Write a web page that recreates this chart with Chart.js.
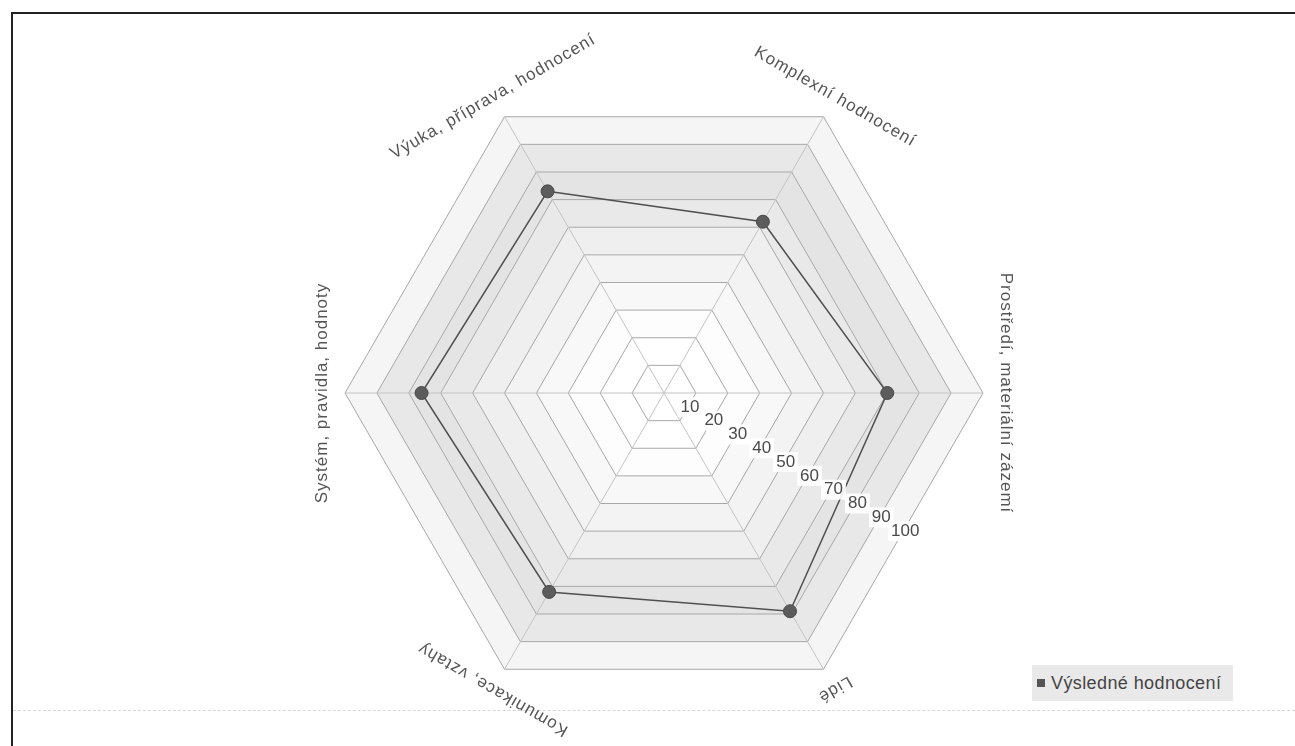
<!DOCTYPE html>
<html>
<head>
<meta charset="utf-8">
<script src="https://cdn.jsdelivr.net/npm/chart.js@4.4.1/dist/chart.umd.min.js"></script>
<style>
  html, body { margin: 0; padding: 0; background: #fff; }
  #wrap { position: relative; width: 1295px; height: 746px; overflow: hidden; }
  #frame { position: absolute; left: 11px; top: 12px; width: 1300px; height: 760px;
           border-top: 2px solid #222; border-left: 2px solid #222; }
  #bottomLine { position: absolute; left: 13px; top: 710px; width: 1282px; height: 0;
                border-top: 1px dashed #d8d8d8; }
  #legend { position: absolute; left: 1032px; top: 665px; width: 201px; height: 36px;
            background: #e9e9e9; font-family: "Liberation Sans", Arial, sans-serif;
            font-size: 18px; color: #444; display: flex; align-items: center; letter-spacing: 0.4px; }
  #legend span.box { display: inline-block; width: 8px; height: 8px; background: #555;
                     margin: 0 6px 0 5px; }
  canvas { position: absolute; left: 0; top: 0; }
</style>
</head>
<body>
<div id="wrap">
  <div id="frame"></div>
  <div id="bottomLine"></div>
  <canvas id="radar" width="1295" height="746"></canvas>
  <div id="legend"><span class="box"></span>Výsledné hodnocení</div>
</div>
<script>
const categories = [
  "Výuka, příprava, hodnocení",
  "Komplexní hodnocení",
  "Prostředí, materiální zázemí",
  "Lidé",
  "Komunikace, vztahy",
  "Systém, pravidla, hodnoty"
];
const scores = [73, 62, 70, 79, 72, 76];
const tickValues = [10, 20, 30, 40, 50, 60, 70, 80, 90, 100];
const seriesName = "Výsledné hodnocení";

// shade of each ring band, inner to outer
const bandColors = ["#ffffff", "#ffffff", "#fdfdfd", "#f8f8f8", "#f3f3f3",
                    "#efefef", "#e9e9e9", "#e4e4e4", "#e8e8e8", "#f5f5f5"];

const labelFont = '17px "Liberation Sans", Arial, sans-serif';

function ringPath(ctx, scale, value) {
  const d = scale.getDistanceFromCenterForValue(value);
  ctx.beginPath();
  for (let i = 0; i < categories.length; i++) {
    const p = scale.getPointPosition(i, d);
    if (i === 0) ctx.moveTo(p.x, p.y); else ctx.lineTo(p.x, p.y);
  }
  ctx.closePath();
}

const bandsPlugin = {
  id: "bands",
  beforeDraw(chart) {
    const scale = chart.scales.r;
    const ctx = chart.ctx;
    ctx.save();
    for (let k = tickValues.length - 1; k >= 0; k--) {
      ringPath(ctx, scale, tickValues[k]);
      ctx.fillStyle = bandColors[k];
      ctx.fill();
    }
    ctx.restore();
  },
  afterDraw(chart) {
    const scale = chart.scales.r;
    const ctx = chart.ctx;
    ctx.save();

    // axis titles, turned to follow the rim
    ctx.font = labelFont;
    ctx.fillStyle = "#555";
    ctx.textAlign = "center";
    ctx.textBaseline = "middle";
    ctx.letterSpacing = "1px";
    const outer = scale.getDistanceFromCenterForValue(100) + 23;
    categories.forEach((name, i) => {
      const p = scale.getPointPosition(i, outer);
      ctx.save();
      ctx.translate(p.x, p.y);
      ctx.rotate(scale.getIndexAngle(i));
      ctx.fillText(name, 0, 0);
      ctx.restore();
    });

    // tick labels on the edge between "Prostředí" and "Lidé"
    ctx.letterSpacing = "0px";
    ctx.font = '17px "Liberation Sans", Arial, sans-serif';
    tickValues.forEach(v => {
      const d = scale.getDistanceFromCenterForValue(v);
      const a = scale.getPointPosition(2, d);
      const b = scale.getPointPosition(3, d);
      const x = (a.x + b.x) / 2 + 2;
      const y = (a.y + b.y) / 2;
      const txt = String(v);
      const w = ctx.measureText(txt).width + 6;
      ctx.fillStyle = "rgba(255,255,255,0.9)";
      ctx.fillRect(x - w / 2, y - 10, w, 20);
      ctx.fillStyle = "#4a4a4a";
      ctx.fillText(txt, x, y);
    });
    ctx.restore();
  }
};

new Chart(document.getElementById("radar"), {
  type: "radar",
  data: {
    labels: categories,
    datasets: [{
      label: seriesName,
      data: scores,
      borderColor: "#505050",
      borderWidth: 1.5,
      backgroundColor: "rgba(0,0,0,0)",
      fill: false,
      pointRadius: 6.5,
      pointBackgroundColor: "#5c5c5c",
      pointBorderColor: "#484848",
      pointBorderWidth: 1
    }]
  },
  options: {
    responsive: false,
    animation: false,
    layout: { padding: { top: 74, bottom: 34, left: 345, right: 312 } },
    plugins: {
      legend: { display: false },
      tooltip: { enabled: false }
    },
    scales: {
      r: {
        min: 0,
        max: 100,
        startAngle: -30,
        ticks: { stepSize: 10, display: false },
        grid: { color: "#a8a8a8", lineWidth: 1 },
        angleLines: { color: "#c4c4c4", lineWidth: 1 },
        pointLabels: { display: false }
      }
    }
  },
  plugins: [bandsPlugin]
});
</script>
</body>
</html>
